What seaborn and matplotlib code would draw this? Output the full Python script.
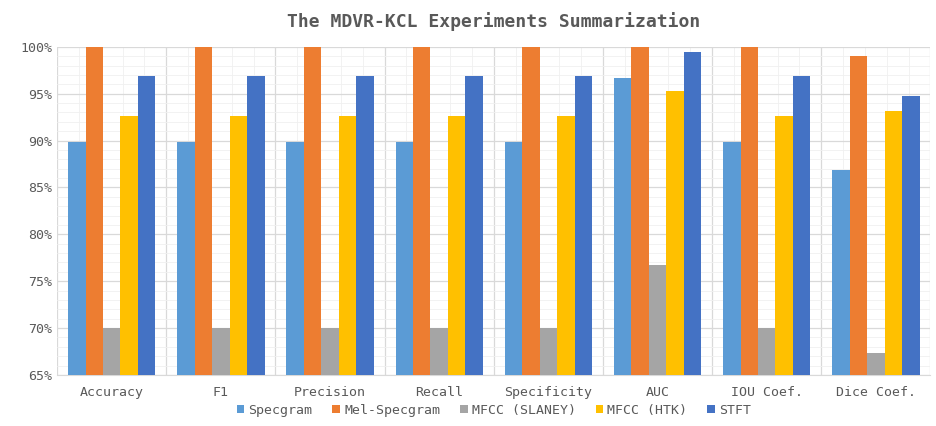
import pandas as pd
import matplotlib
matplotlib.use("Agg")
import matplotlib.pyplot as plt
import seaborn as sns
from matplotlib.ticker import MultipleLocator, FuncFormatter

# metrics on the x axis
metrics = ['Accuracy', 'F1', 'Precision', 'Recall', 'Specificity', 'AUC', 'IOU Coef.', 'Dice Coef.']

# values in percent
specgram = [89.8, 89.8, 89.8, 89.8, 89.8, 96.7, 89.8, 86.9]
mel_specgram = [100, 100, 100, 100, 100, 100, 100, 99.0]
mfcc_slaney = [70.0, 70.0, 70.0, 70.0, 70.0, 76.7, 70.0, 67.3]
mfcc_htk = [92.6, 92.6, 92.6, 92.6, 92.6, 95.3, 92.6, 93.2]
stft = [96.9, 96.9, 96.9, 96.9, 96.9, 99.4, 96.9, 94.8]

series_names = ['Specgram', 'Mel-Specgram', 'MFCC (SLANEY)', 'MFCC (HTK)', 'STFT']
colors = ['#5B9BD5', '#ED7D31', '#A5A5A5', '#FFC000', '#4472C4']

rows = []
for name, vals in zip(series_names, [specgram, mel_specgram, mfcc_slaney, mfcc_htk, stft]):
    for m, v in zip(metrics, vals):
        rows.append({'metric': m, 'feature': name, 'value': v})
df = pd.DataFrame(rows)

sns.set_style("white")
plt.rcParams['font.family'] = ['DejaVu Sans Mono', 'DejaVu Sans']

fig = plt.figure(figsize=(9.37, 4.26), dpi=100)
ax = fig.add_axes([0.061, 0.12, 0.932, 0.77])

sns.barplot(data=df, x='metric', y='value', hue='feature', palette=colors,
            width=0.8, gap=0, saturation=1, linewidth=0, ax=ax, zorder=3)

ax.set_ylim(65, 100)
ax.set_xlim(-0.5, len(metrics) - 0.5)
ax.yaxis.set_major_locator(MultipleLocator(5))
ax.yaxis.set_minor_locator(MultipleLocator(1))
ax.yaxis.set_major_formatter(FuncFormatter(lambda v, p: f"{int(v)}%"))
ax.set_xticks(range(len(metrics)))
ax.set_xticks([i - 0.5 for i in range(len(metrics) + 1)], minor=True)
ax.grid(which='major', axis='y', color='#d9d9d9', lw=0.9, zorder=0)
ax.grid(which='minor', axis='y', color='#f0f0f0', lw=0.6, zorder=0)
ax.grid(which='minor', axis='x', color='#d9d9d9', lw=0.9, zorder=0)
# faint vertical sub-lines inside each category
for i in range(len(metrics)):
    for f in (-0.3, -0.1, 0.1, 0.3):
        ax.axvline(i + f, color='#f0f0f0', lw=0.6, zorder=0)

for s in ['top', 'right', 'left']:
    ax.spines[s].set_visible(False)
ax.spines['bottom'].set_color('#d9d9d9')
ax.tick_params(axis='both', which='both', length=0, colors='#595959', labelsize=9.5)
ax.tick_params(axis='x', pad=8)
ax.set_xlabel('')
ax.set_ylabel('')

ax.set_title('The MDVR-KCL Experiments Summarization', fontsize=13, fontweight='bold',
             color='#595959', pad=14)

handles, labels = ax.get_legend_handles_labels()
ax.legend(handles, labels, loc='center', bbox_to_anchor=(0.5, -0.108), ncol=5,
          frameon=False, fontsize=9.5, handlelength=0.6, handleheight=0.6,
          handletextpad=0.3, columnspacing=1.5, labelcolor='#595959',
          borderaxespad=0, borderpad=0)

fig.savefig('out.png', dpi=100)
